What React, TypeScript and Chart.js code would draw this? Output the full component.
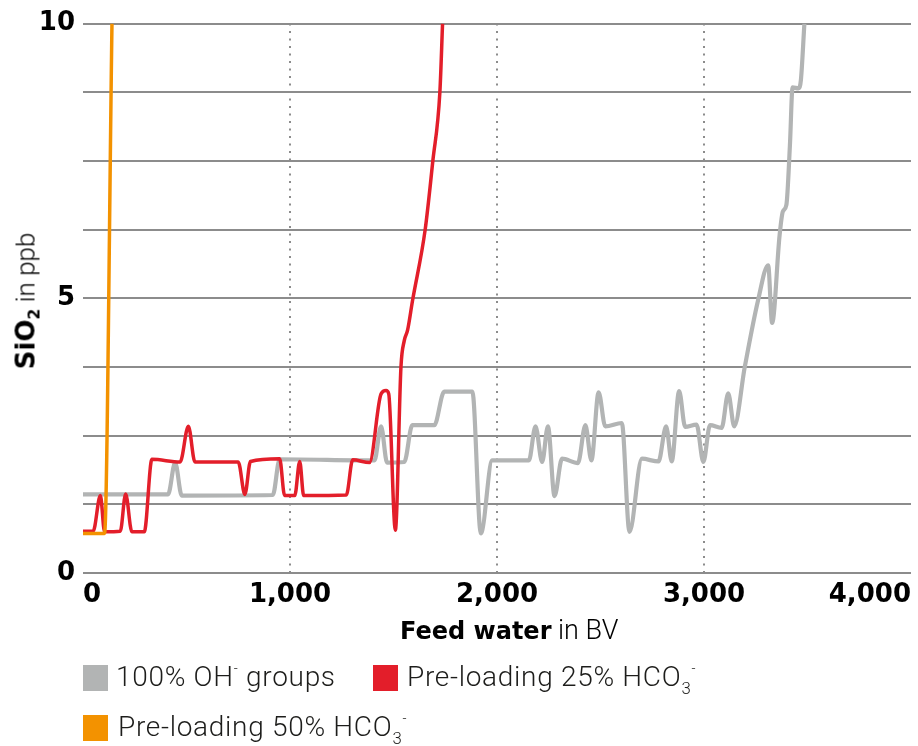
import React, { useEffect, useRef } from "react";
import { Chart, registerables } from "chart.js";

Chart.register(...registerables);

// ---- data ----
const xTickValues = [0, 1000, 2000, 3000, 4000];
const yLabelValues = [0, 5, 10];

const seriesNames = ["100% OH- groups", "Pre-loading 25% HCO3-", "Pre-loading 50% HCO3-"];

const grayX = [0, 411, 445, 477, 917, 950, 1408, 1440, 1469, 1552, 1591, 1697, 1745, 1881, 1922, 1977, 2154, 2186, 2218, 2246, 2278, 2314, 2391, 2427, 2456, 2491, 2523, 2603, 2640, 2700, 2780, 2817, 2844, 2880, 2909, 2964, 2997, 3029, 3085, 3117, 3146, 3197, 3261, 3310, 3329, 3365, 3381, 3398, 3415, 3428, 3456, 3468, 3485];
const grayY = [1.43, 1.43, 2.01, 1.41, 1.42, 2.07, 2.05, 2.67, 2.01, 2.02, 2.69, 2.69, 3.3, 3.3, 0.72, 2.05, 2.05, 2.67, 2.02, 2.67, 1.4, 2.08, 2.0, 2.69, 2.05, 3.29, 2.67, 2.73, 0.75, 2.08, 2.03, 2.67, 2.03, 3.31, 2.66, 2.7, 2.02, 2.69, 2.64, 3.27, 2.67, 3.75, 4.96, 5.6, 4.55, 6.14, 6.58, 6.7, 7.78, 8.84, 8.82, 8.97, 10.0];

const redX = [0, 49, 84, 104, 180, 206, 236, 296, 333, 469, 509, 541, 750, 782, 809, 950, 974, 1023, 1047, 1066, 1272, 1303, 1384, 1440, 1464, 1477, 1509, 1536, 1552, 1568, 1592, 1653, 1690, 1724, 1737];
const redY = [0.76, 0.76, 1.41, 0.75, 0.76, 1.44, 0.75, 0.75, 2.07, 2.02, 2.67, 2.02, 2.02, 1.43, 2.03, 2.08, 1.41, 1.41, 2.03, 1.41, 1.42, 2.06, 2.01, 3.26, 3.32, 3.26, 0.78, 3.75, 4.23, 4.42, 4.96, 6.25, 7.5, 8.75, 10.0];

const orangeX = [0, 50, 104, 140];
const orangeY = [0.72, 0.72, 0.72, 10.0];

const GRAY = "#b2b4b4";
const RED = "#e31e2a";
const ORANGE = "#f39200";
const GRID = "#8c8c8c";
const TEXT = "#1d1d1b";

const toPts = (xs: number[], ys: number[]) => xs.map((x, i) => ({ x, y: ys[i] }));

const boldFont = "'DejaVu Sans', Arial, sans-serif";
const lightFont = "Roboto, 'Noto Sans', Arial, sans-serif";

export default function App() {
  const ref = useRef<HTMLCanvasElement | null>(null);

  useEffect(() => {
    document.body.style.margin = "0";
    const chart = new Chart(ref.current as HTMLCanvasElement, {
      type: "line",
      data: {
        datasets: [
          {
            label: seriesNames[2],
            data: toPts(orangeX, orangeY),
            borderColor: ORANGE,
            borderWidth: 3.5,
            pointRadius: 0,
            cubicInterpolationMode: "monotone",
            fill: false,
          },
          {
            label: seriesNames[1],
            data: toPts(redX, redY),
            borderColor: RED,
            borderWidth: 3.5,
            pointRadius: 0,
            cubicInterpolationMode: "monotone",
            fill: false,
          },
          {
            label: seriesNames[0],
            data: toPts(grayX, grayY),
            borderColor: GRAY,
            borderWidth: 4.2,
            pointRadius: 0,
            cubicInterpolationMode: "monotone",
            fill: false,
          },
        ],
      },
      options: {
        animation: false,
        responsive: false,
        devicePixelRatio: 1,
        layout: { padding: { left: 0, top: 23, right: 5, bottom: 133 } },
        plugins: { legend: { display: false }, tooltip: { enabled: false } },
        scales: {
          x: {
            type: "linear",
            min: 0,
            max: 4000,
            afterBuildTicks: (s: any) => {
              s.ticks = xTickValues.map((v) => ({ value: v }));
            },
            afterFit: (s: any) => {
              s.height = 40;
            },
            ticks: {
              align: "inner",
              autoSkip: false,
              maxRotation: 0,
              padding: 7,
              color: "#000",
              font: { family: boldFont, weight: "bold", size: 26 },
              callback: (v: any) => Number(v).toLocaleString("en-US"),
            },
            grid: {
              drawTicks: false,
              lineWidth: 2,
              color: (ctx: any) =>
                ctx.tick && (ctx.tick.value === 0 || ctx.tick.value === 4000) ? "rgba(0,0,0,0)" : GRID,
            },
            border: { display: false, dash: [2, 5.5] },
          },
          y: {
            type: "linear",
            min: 0,
            max: 10,
            afterFit: (s: any) => {
              s.width = 83;
            },
            ticks: {
              stepSize: 1.25,
              autoSkip: false,
              padding: 8,
              color: "#000",
              font: { family: boldFont, weight: "bold", size: 26 },
              callback: (v: any) => (yLabelValues.includes(Number(v)) ? String(v) : ""),
            },
            grid: { drawTicks: false, lineWidth: 2, color: GRID },
            border: { display: false },
          },
        },
      },
    } as any);
    return () => chart.destroy();
  }, []);

  const sq = (left: number, top: number, color: string) => (
    <div style={{ position: "absolute", left, top, width: 25, height: 26, background: color }} />
  );
  const legendText: React.CSSProperties = {
    position: "absolute",
    fontFamily: lightFont,
    fontWeight: 300,
    fontSize: 28,
    letterSpacing: "0.7px",
    lineHeight: "28px",
    color: TEXT,
    whiteSpace: "nowrap",
  };
  const supStyle: React.CSSProperties = { fontSize: "0.5em", verticalAlign: "0.9em", lineHeight: 0 };
  const subStyle: React.CSSProperties = { fontSize: "0.6em", verticalAlign: "-0.45em", lineHeight: 0 };

  return (
    <div style={{ position: "relative", width: 918, height: 746, overflow: "hidden", background: "#fff" }}>
      <canvas ref={ref} width={918} height={746} style={{ position: "absolute", left: 0, top: 0, width: 918, height: 746 }} />

      {/* y axis title */}
      <div
        style={{
          position: "absolute",
          left: 26,
          top: 301,
          transform: "translate(-50%, -50%) rotate(-90deg)",
          whiteSpace: "nowrap",
          fontSize: 26,
          lineHeight: "26px",
          color: "#000",
        }}
      >
        <span style={{ fontFamily: boldFont, fontWeight: "bold" }}>
          SiO<span style={{ fontSize: "0.6em", verticalAlign: "-0.35em", lineHeight: 0 }}>2</span>
        </span>
        <span style={{ fontFamily: lightFont, fontWeight: 300 }}> in ppb</span>
      </div>

      {/* x axis title */}
      <div style={{ position: "absolute", left: 400, top: 618, whiteSpace: "nowrap", fontSize: 24, lineHeight: "24px", color: "#000" }}>
        <span style={{ fontFamily: boldFont, fontWeight: "bold" }}>Feed water</span>
        <span style={{ fontFamily: lightFont, fontWeight: 300, fontSize: 27 }}> in BV</span>
      </div>

      {/* legend */}
      {sq(83, 665, GRAY)}
      <div style={{ ...legendText, left: 116, top: 663 }}>
        100% OH<span style={supStyle}>-</span> groups
      </div>
      {sq(373, 665, RED)}
      <div style={{ ...legendText, left: 407, top: 663 }}>
        Pre-loading 25% HCO<span style={subStyle}>3</span>
        <span style={supStyle}>-</span>
      </div>
      {sq(83, 715, ORANGE)}
      <div style={{ ...legendText, left: 118, top: 713 }}>
        Pre-loading 50% HCO<span style={subStyle}>3</span>
        <span style={supStyle}>-</span>
      </div>
    </div>
  );
}
